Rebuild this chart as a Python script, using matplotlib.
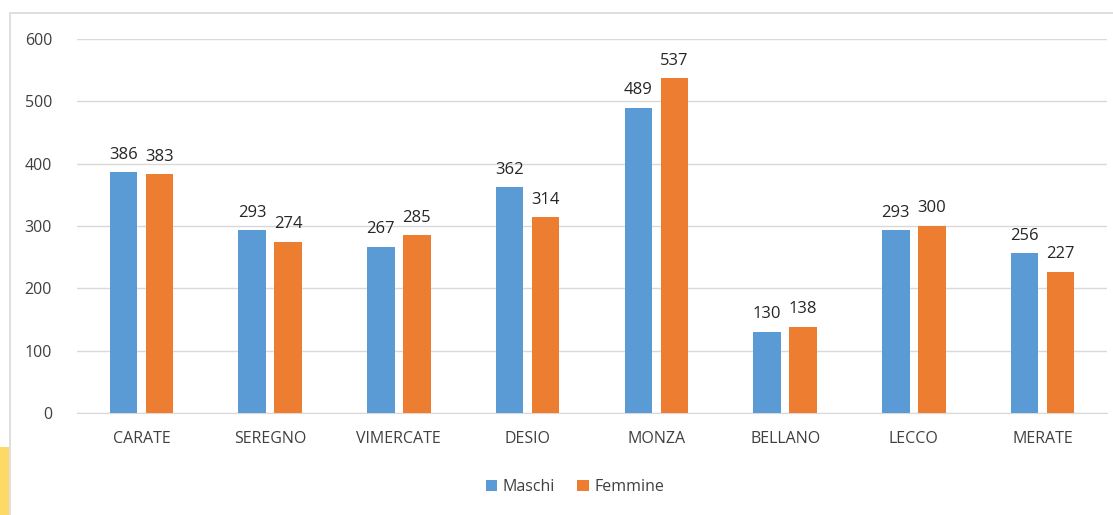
import numpy as np
import matplotlib.pyplot as plt
from matplotlib.patches import Rectangle

# data
categories = ['CARATE', 'SEREGNO', 'VIMERCATE', 'DESIO', 'MONZA', 'BELLANO', 'LECCO', 'MERATE']
maschi = [386, 293, 267, 362, 489, 130, 293, 256]
femmine = [383, 274, 285, 314, 537, 138, 300, 227]
yticks = [0, 100, 200, 300, 400, 500, 600]

plt.rcParams['font.family'] = ['Open Sans', 'DejaVu Sans']

W, H = 1113, 515
fig = plt.figure(figsize=(W / 100, H / 100), dpi=100)

# chart frame and the yellow strip at the bottom left
fig.patches.append(Rectangle((10 / W, -0.2), 1.2, 1.2 - 13 / H, transform=fig.transFigure,
                             fill=False, edgecolor='#d9d9d9', linewidth=1.2))
fig.patches.append(Rectangle((0, 0), 9 / W, (515 - 447) / H, transform=fig.transFigure,
                             facecolor='#ffd966', edgecolor='none'))

ax = fig.add_axes([77 / W, 1 - 413 / H, (1107 - 77) / W, (413 - 39) / H])

x = np.arange(len(categories))
w = 0.215
off = 0.14
b1 = ax.bar(x - off, maschi, w, color='#5b9bd5', label='Maschi', zorder=3)
b2 = ax.bar(x + off, femmine, w, color='#ed7d31', label='Femmine', zorder=3)

for bars in (b1, b2):
    for r in bars:
        ax.annotate(f'{int(r.get_height())}', (r.get_x() + r.get_width() / 2, r.get_height()),
                    xytext=(0, 7), textcoords='offset points', ha='center', va='bottom',
                    fontsize=12, color='#262626')

ax.set_xlim(-0.5, len(categories) - 0.5)
ax.set_ylim(0, 600)
ax.set_yticks(yticks)
ax.set_xticks(x)
ax.set_xticklabels(categories)
ax.grid(axis='y', color='#d9d9d9', linewidth=1, zorder=0)
for s in ['top', 'right', 'left']:
    ax.spines[s].set_visible(False)
ax.spines['bottom'].set_color('#d9d9d9')
ax.tick_params(axis='both', length=0, labelsize=11.5, colors='#404040')
ax.tick_params(axis='y', pad=18)
ax.tick_params(axis='x', pad=13)

fig.legend(handles=[b1, b2], loc='center', bbox_to_anchor=(575 / W, 1 - 487 / H), ncol=2,
           frameon=False, fontsize=11.5, handlelength=0.7, handleheight=0.7,
           handletextpad=0.35, columnspacing=1.4, labelcolor='#404040')

fig.savefig('out.png', dpi=100)
